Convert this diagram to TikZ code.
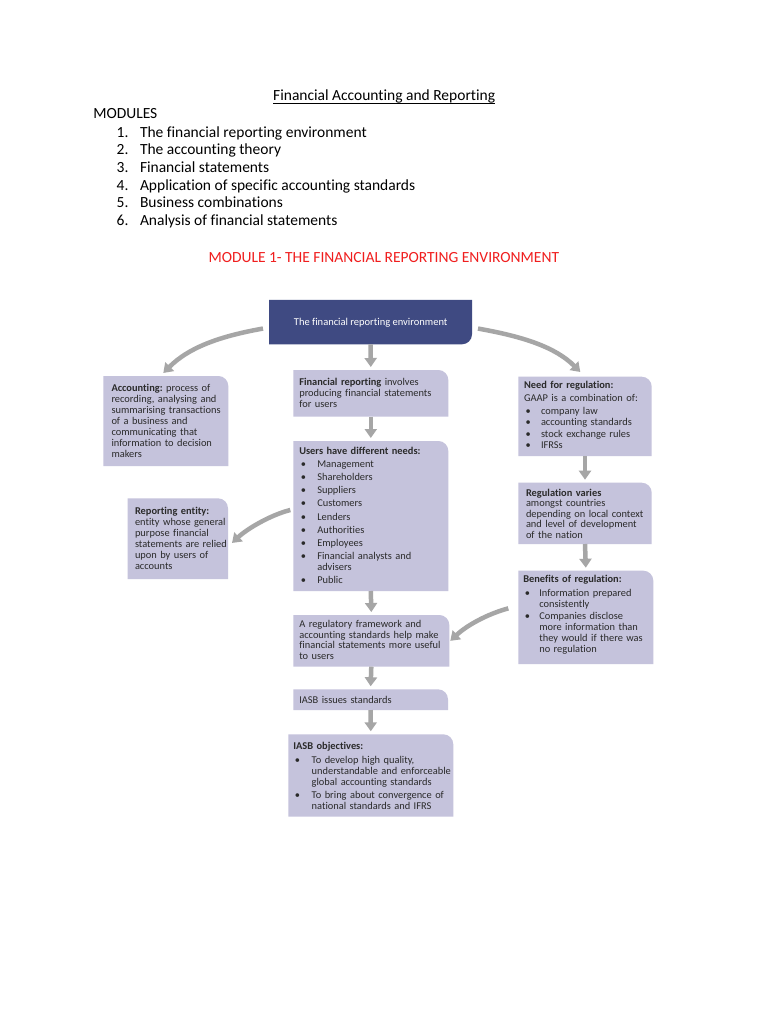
\documentclass[tikz,border=0pt]{standalone}
\usepackage{fontspec}
\setmainfont{Carlito}[Ligatures=NoCommon]
\usetikzlibrary{arrows.meta}
\definecolor{boxc}{HTML}{C5C3DC}
\definecolor{navyc}{HTML}{3F4A82}
\definecolor{arrc}{HTML}{A6A6A6}
\definecolor{txtc}{HTML}{2A2A2A}
\definecolor{redc}{HTML}{F01E1E}
\frenchspacing
\newlength\igap
\setlength\igap{0pt}
\newcommand\bi[2][17pt]{\par\vspace{\igap}\leftskip=#1\noindent\llap{\makebox[#1][l]{\hspace{1.5pt}\textbullet}}#2\par}
\newcommand\fillTR[1]{\fill[boxc] (#1.south west) -- (#1.north west) -- ([xshift=-10pt]#1.north east) arc[start angle=90,end angle=0,radius=10pt] -- (#1.south east) -- cycle;}
\begin{document}
\begin{tikzpicture}[x=1pt,y=-1pt,
  boxnode/.style={inner sep=0pt, outer sep=0pt, anchor=north west, draw=none},
  boxtext/.style={anchor=base west, inner sep=0pt, outer sep=0pt, text width=#1, text=txtc, font=\fontsize{10.4}{11}\selectfont},
  maintext/.style={anchor=base west, inner sep=0pt, outer sep=0pt, font=\fontsize{15.5}{18}\selectfont},
  arr/.style={draw=arrc, line width=4.5pt, -{Triangle[width=12pt,length=9pt]}}]
\useasboundingbox[fill=white] (0,0) rectangle (768,1024);

% ---------- header text ----------
\node[maintext, anchor=base] (doctitle) at (384.2,100.7) {Financial Accounting and Reporting};
\draw[line width=0.9pt] ([yshift=-2.6pt]doctitle.base west) -- ([yshift=-2.6pt]doctitle.base east);
\node[maintext] (modules) at (93.3,119) {MODULES};
\node[maintext] (n1) at (116.7,137.3) {1.};
\node[maintext] (m1) at (140,137.3) {The financial reporting environment};
\node[maintext] (n2) at (116.7,155) {2.};
\node[maintext] (m2) at (140,155) {The accounting theory};
\node[maintext] (n3) at (116.7,172.7) {3.};
\node[maintext] (m3) at (140,172.7) {Financial statements};
\node[maintext] (n4) at (116.7,190.3) {4.};
\node[maintext] (m4) at (140,190.3) {Application of specific accounting standards};
\node[maintext] (n5) at (116.7,208) {5.};
\node[maintext] (m5) at (140,208) {Business combinations};
\node[maintext] (n6) at (116.7,225.7) {6.};
\node[maintext] (m6) at (140,225.7) {Analysis of financial statements};
\node[maintext, anchor=base, text=redc] (modhead) at (383.8,262.3) {MODULE 1- THE FINANCIAL REPORTING ENVIRONMENT};

% ---------- title box ----------
\node[boxnode, minimum width=203pt, minimum height=44.5pt] (title) at (269,299.8) {};
\fill[navyc] (title.north west) -- (title.north east) -- ([yshift=10pt]title.south east) arc[start angle=0,end angle=-90,radius=10pt] -- (title.south west) -- cycle;
\node[anchor=base, inner sep=0pt, text=white, font=\fontsize{10.5}{12}\selectfont] (titlet) at (370.7,325.3) {The financial reporting environment};

% ---------- lavender boxes ----------
\node[boxnode, minimum width=125pt, minimum height=90pt] (acc) at (103.3,376) {};
\fillTR{acc}
\node[boxtext=118pt] (acct) at (111.5,391) {\textbf{Accounting:} process of\\recording, analysing and\\summarising transactions\\of a business and\\communicating that\\information to decision\\makers};

\node[boxnode, minimum width=155pt, minimum height=46.7pt] (finrep) at (293.3,370) {};
\fillTR{finrep}
\node[boxtext=150pt] (finrept) at (299.3,385.5) {\textbf{Financial reporting} involves\\producing financial statements\\for users};

\node[boxnode, minimum width=155pt, minimum height=150pt] (users) at (293.3,441) {};
\fillTR{users}
\node[boxtext=150pt] (userst) at (299.3,454) {\setlength\igap{2.2pt}\textbf{Users have different needs:}\bi[18pt]{Management}\bi[18pt]{Shareholders}\bi[18pt]{Suppliers}\bi[18pt]{Customers}\bi[18pt]{Lenders}\bi[18pt]{Authorities}\bi[18pt]{Employees}\bi[18pt]{Financial analysts and\\advisers}\bi[18pt]{Public}};

\node[boxnode, minimum width=133.4pt, minimum height=79.3pt] (need) at (518.3,376.7) {};
\fillTR{need}
\node[boxtext=130pt, font=\fontsize{10.4}{11.3}\selectfont] (needt) at (524,388.5) {\textbf{Need for regulation:}\par\vspace{1.2pt}\noindent GAAP is a combination of:\par\vspace{2.2pt}\bi{company law}\bi{accounting standards}\bi{stock exchange rules}\bi{IFRSs}};

\node[boxnode, minimum width=100.3pt, minimum height=80.7pt] (rep) at (127.7,498.3) {};
\fillTR{rep}
\node[boxtext=96pt] (rept) at (135,514) {\textbf{Reporting entity:}\\entity whose general\\purpose financial\\statements are relied\\upon by users of\\accounts};

\node[boxnode, minimum width=133.4pt, minimum height=61.3pt] (regv) at (518.3,482.7) {};
\fillTR{regv}
\node[boxtext=130pt, font=\fontsize{10.4}{10.5}\selectfont] (regvt) at (526,496) {\textbf{Regulation varies}\\amongst countries\\depending on local context\\and level of development\\of the nation};

\node[boxnode, minimum width=135pt, minimum height=93.3pt] (ben) at (518.3,570.7) {};
\fillTR{ben}
\node[boxtext=132pt] (bent) at (523.3,582.5) {\textbf{Benefits of regulation:}\par\vspace{2.5pt}\bi[16pt]{Information prepared\\consistently}\vspace{1.5pt}\bi[16pt]{Companies disclose\\more information than\\they would if there was\\no regulation}};

\node[boxnode, minimum width=156pt, minimum height=51.7pt] (regfw) at (293.3,615) {};
\fillTR{regfw}
\node[boxtext=152pt, font=\fontsize{10.4}{10.7}\selectfont] (regfwt) at (299.3,627.5) {A regulatory framework and\\accounting standards help make\\financial statements more useful\\to users};

\node[boxnode, minimum width=154.7pt, minimum height=20.7pt] (iasb) at (293.3,689.3) {};
\fillTR{iasb}
\node[boxtext=150pt] (iasbt) at (299.3,703) {IASB issues standards};

\node[boxnode, minimum width=165pt, minimum height=82.4pt] (obj) at (288.3,734.3) {};
\fillTR{obj}
\node[boxtext=162pt, font=\fontsize{10.4}{11.2}\selectfont] (objt) at (293.3,749) {\textbf{IASB objectives:}\par\vspace{2.8pt}\bi[18.4pt]{To develop high quality,\\understandable and enforceable\\global accounting standards}\vspace{2pt}\bi[18.4pt]{To bring about convergence of\\national standards and IFRS}};

% ---------- connectors ----------
\coordinate (a1s) at ([xshift=-6pt,yshift=-6.5pt]title.west);
\coordinate (a1e) at ([xshift=60pt,yshift=3pt]acc.north west);
\draw[arr] (a1s) .. controls +(-45,8) and +(25,-25) .. (a1e);

\coordinate (a2s) at ([xshift=6pt,yshift=-6.5pt]title.east);
\coordinate (a2e) at ([xshift=62pt,yshift=4.7pt]need.north west);
\draw[arr] (a2s) .. controls +(45,8) and +(-25,-25) .. (a2e);

\coordinate (a3s) at ([xshift=-3pt,yshift=6pt]users.west);
\coordinate (a3e) at ([xshift=4pt,yshift=-4.3pt]rep.east);
\draw[arr] (a3s) .. controls +(-20,5) and +(15,-14) .. (a3e);

\coordinate (a4s) at ([xshift=-10pt,yshift=9pt]ben.west);
\coordinate (a4e) at ([xshift=1pt]regfw.east);
\draw[arr] (a4s) .. controls +(-22,6) and +(16,-15) .. (a4e);

\draw[arr] (title.south) -- ([yshift=3pt]finrep.north);
\draw[arr] (finrep.south) -- ([yshift=3pt]users.north);
\draw[arr] (users.south) -- ([yshift=3pt]regfw.north);
\draw[arr] (regfw.south) -- ([yshift=3pt]iasb.north);
\draw[arr] (iasb.south) -- ([yshift=3pt]obj.north);
\draw[arr] (need.south) -- ([yshift=3pt]regv.north);
\draw[arr] (regv.south) -- ([yshift=3pt]ben.north);
\end{tikzpicture}
\end{document}
